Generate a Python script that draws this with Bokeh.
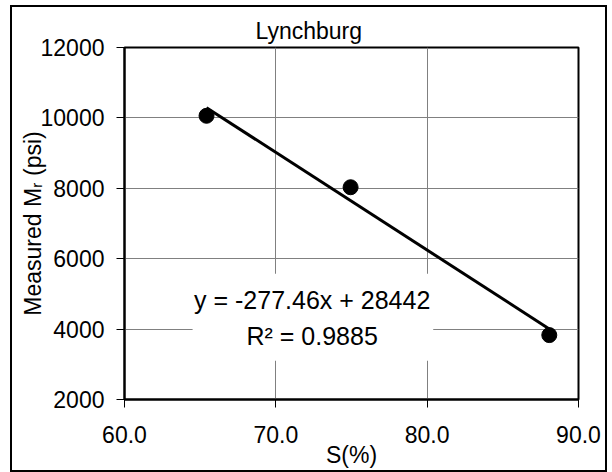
from bokeh.plotting import figure
from bokeh.models import Label, BoxAnnotation, Range1d, FixedTicker, NumeralTickFormatter
from bokeh.embed import file_html
from bokeh.resources import INLINE

# Lynchburg: measured resilient modulus against degree of saturation
s_pct = [65.42, 74.94, 88.07]
mr_psi = [10060, 8030, 3830]

# Linear trendline stated in the chart
slope = -277.46
intercept = 28442
r_squared = 0.9885

x_ticks = [60, 70, 80, 90]
y_ticks = [2000, 4000, 6000, 8000, 10000, 12000]

FONT = "Liberation Sans"
FS = "23px"

p = figure(
    width=597, height=467,
    x_range=Range1d(60, 90), y_range=Range1d(2000, 12000),
    output_backend="svg", toolbar_location=None,
    min_border_left=114, min_border_right=29,
    min_border_top=42, min_border_bottom=73,
)
p.margin = (5, 0, 0, 10)
p.styles = {"outline": "2px solid #000", "outline-offset": "-2px"}
p.background_fill_color = "white"
p.border_fill_color = None
p.outline_line_color = "black"
p.outline_line_width = 2
p.outline_line_alpha = 1.0

# Title
p.title.text = "Lynchburg"
p.title.text_font = FONT
p.title.text_font_size = FS
p.title.text_font_style = "normal"
p.title.text_color = "black"
p.title.align = "left"
p.title.offset = 131
p.title.standoff = 8

for ax in (p.xaxis[0], p.yaxis[0]):
    ax.axis_line_color = "black"
    ax.axis_line_width = 2
    ax.major_tick_line_color = "black"
    ax.major_tick_line_width = 1
    ax.major_tick_out = 8
    ax.major_tick_in = 0
    ax.minor_tick_out = 0
    ax.minor_tick_in = 0
    ax.major_label_text_font = FONT
    ax.major_label_text_font_size = FS
    ax.major_label_text_color = "black"
    ax.axis_label_text_font = FONT
    ax.axis_label_text_font_size = FS
    ax.axis_label_text_font_style = "normal"
    ax.axis_label_text_color = "black"

p.xaxis.ticker = FixedTicker(ticks=x_ticks)
p.xaxis.formatter = NumeralTickFormatter(format="0.0")
p.xaxis.major_label_standoff = 18
p.xaxis.axis_label = "S(%)"
p.xaxis.axis_label_standoff = -4

p.yaxis.ticker = FixedTicker(ticks=y_ticks)
p.yaxis.formatter = NumeralTickFormatter(format="0")
p.yaxis.major_label_standoff = 12
p.yaxis.axis_label = "Measured M\u1d63 (psi)"
p.yaxis.axis_label_standoff = -8

p.xgrid.grid_line_color = "#808080"
p.ygrid.grid_line_color = "#808080"
p.xgrid.grid_line_width = 1
p.ygrid.grid_line_width = 1

# Data points
p.scatter(s_pct, mr_psi, size=15, color="black")

# Trendline over the range of the data
x0, x1 = min(s_pct), max(s_pct)
p.line([x0, x1], [slope * x0 + intercept, slope * x1 + intercept],
       line_width=3, line_color="black")

# Equation box
p.add_layout(BoxAnnotation(left=64.5, right=80.4, bottom=3100, top=5570,
                           fill_color="white", fill_alpha=1.0,
                           line_color=None, level="annotation"))
eq_text = f"y = {slope}x + {intercept}"
r2_text = f"R\u00b2 = {r_squared}"
for txt, yb in ((eq_text, 4813), (r2_text, 3818)):
    p.add_layout(Label(x=72.4, y=yb, text=txt, text_align="center",
                       text_baseline="alphabetic", text_font=FONT,
                       text_font_size="25px", text_color="black"))

open("out.html", "w").write(file_html(p, INLINE))
